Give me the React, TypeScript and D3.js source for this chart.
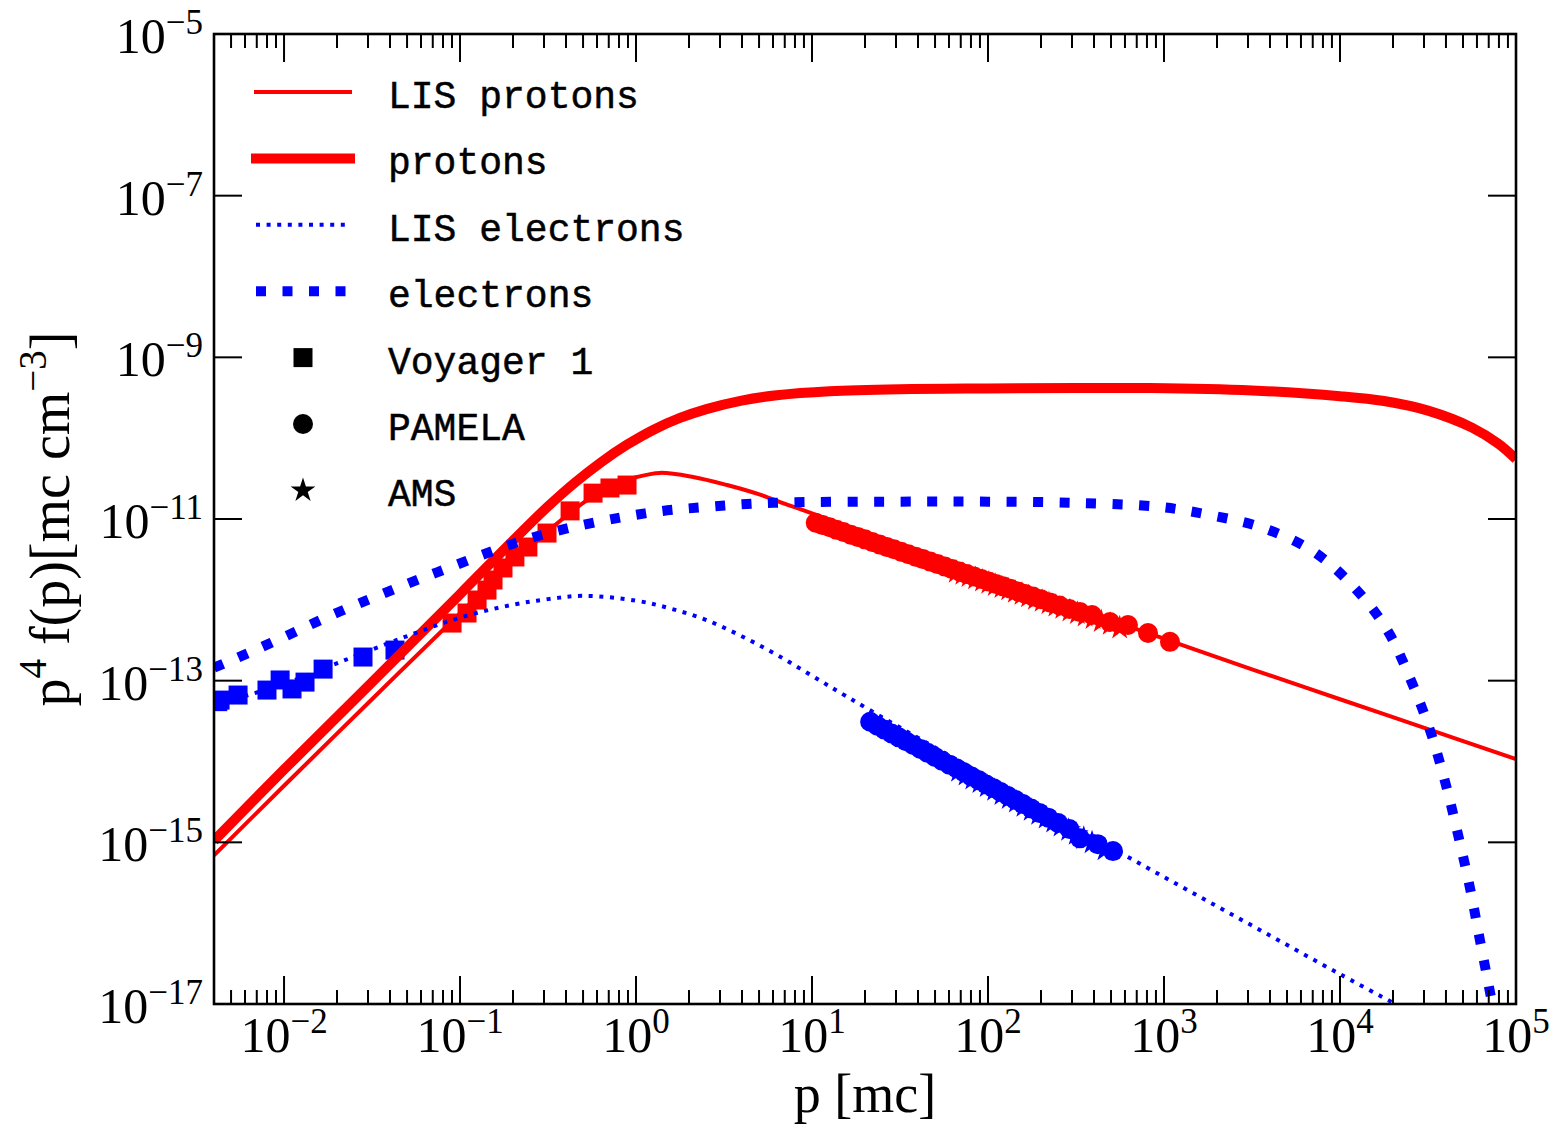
import React from 'react';
import * as d3 from 'd3';

// ---------- data ----------
const lisProtonsP = [0.004, 0.01, 0.0316, 0.0938, 0.178, 0.316, 0.501, 0.708, 1.014, 1.368, 2.109, 3.289, 5.07, 7.21, 10, 31.6, 100, 316, 1000, 3162, 10000, 31623, 100000];
const lisProtonsF = [6.92e-16, 5.01e-15, 5.89e-14, 5.96e-13, 2.29e-12, 7.08e-12, 1.585e-11, 2.51e-11, 3.31e-11, 3.72e-11, 3.31e-11, 2.63e-11, 2.0e-11, 1.51e-11, 1.175e-11, 4.68e-12, 1.905e-12, 7.94e-13, 3.31e-13, 1.38e-13, 5.89e-14, 2.51e-14, 1.07e-14];

const protonsP = [0.004, 0.01, 0.0316, 0.1, 0.1995, 0.316, 0.447, 0.631, 0.891, 1.259, 1.778, 2.512, 3.98, 6.31, 12.59, 31.6, 100, 316, 832, 3162, 10000, 17783, 31623, 56234, 79433, 100000];
const protonsF = [1.047e-15, 7.94e-15, 9.55e-14, 1.175e-12, 5.37e-12, 1.43e-11, 2.79e-11, 5.01e-11, 8.32e-11, 1.274e-10, 1.778e-10, 2.29e-10, 2.92e-10, 3.39e-10, 3.8e-10, 4.03e-10, 4.12e-10, 4.17e-10, 4.17e-10, 3.89e-10, 3.31e-10, 2.88e-10, 2.19e-10, 1.35e-10, 8.51e-11, 5.5e-11];

const lisElectronsP = [0.004, 0.01, 0.0208, 0.0486, 0.1, 0.2, 0.316, 0.501, 1, 1.585, 2.512, 3.98, 6.31, 10, 15.85, 31.6, 100, 316, 1000, 3162, 10000, 25119];
const lisElectronsF = [5.01e-14, 9.12e-14, 1.7e-13, 3.47e-13, 6.03e-13, 8.71e-13, 1.02e-12, 1.12e-12, 9.77e-13, 7.76e-13, 5.62e-13, 3.55e-13, 2.09e-13, 1.15e-13, 6.31e-14, 2.63e-14, 6.31e-15, 1.51e-15, 3.72e-16, 9.33e-17, 2.34e-17, 7.94e-18];

const electronsP = [0.004, 0.0054, 0.01, 0.02, 0.074, 0.277, 1.125, 2.512, 6.0, 31.6, 100, 316, 948, 1824, 3656, 7031, 11858, 18493, 25003, 32434, 39537, 46774, 54828, 62373, 71121, 79433];
const electronsF = [1.445e-13, 1.905e-13, 3.47e-13, 6.92e-13, 2.19e-12, 6.17e-12, 1.175e-11, 1.41e-11, 1.585e-11, 1.64e-11, 1.64e-11, 1.585e-11, 1.41e-11, 1.12e-11, 7.76e-12, 3.98e-12, 1.48e-12, 4.27e-13, 1.07e-13, 2.45e-14, 5.62e-15, 1.26e-15, 2.69e-16, 6.17e-17, 1.41e-17, 3.98e-18];

const voyagerProtonsP = [0.0901, 0.1096, 0.125, 0.1423, 0.154, 0.1754, 0.205, 0.243, 0.312, 0.422, 0.57, 0.711, 0.889];
const voyagerProtonsF = [5.16e-13, 6.87e-13, 9.95e-13, 1.32e-12, 1.76e-12, 2.48e-12, 3.39e-12, 4.5e-12, 6.7e-12, 1.26e-11, 2.09e-11, 2.42e-11, 2.63e-11];

const voyagerElectronsP = [0.0042, 0.00433, 0.00548, 0.008, 0.0095, 0.0111, 0.01316, 0.01667, 0.0281, 0.0427];
const voyagerElectronsF = [5.5e-14, 5.75e-14, 6.64e-14, 7.65e-14, 1.02e-13, 7.9e-14, 9.6e-14, 1.39e-13, 1.96e-13, 2.39e-13];

const pamelaProtonsP = [10.5, 11.5, 12.6, 13.8, 15.1, 16.6, 18.2, 20.0, 22.0, 24.2, 26.6, 29.2, 32.1, 35.3, 38.8, 42.7, 47.0, 51.7, 56.9, 62.6, 68.9, 75.8, 83.4, 91.8, 101, 111, 122, 134, 148, 163, 180, 200, 225, 255, 290, 333, 390, 493, 624, 811, 1081];
const pamelaProtonsF = [9.0e-12, 8.4e-12, 7.9e-12, 7.35e-12, 6.9e-12, 6.4e-12, 6.0e-12, 5.6e-12, 5.2e-12, 4.85e-12, 4.52e-12, 4.22e-12, 3.94e-12, 3.66e-12, 3.42e-12, 3.19e-12, 2.97e-12, 2.77e-12, 2.58e-12, 2.4e-12, 2.24e-12, 2.08e-12, 1.94e-12, 1.81e-12, 1.69e-12, 1.57e-12, 1.47e-12, 1.37e-12, 1.27e-12, 1.18e-12, 1.1e-12, 1.02e-12, 9.3e-13, 8.5e-13, 7.7e-13, 7.06e-13, 6.49e-13, 5.31e-13, 4.88e-13, 3.89e-13, 3.02e-13];

const amsProtonsP = [66, 72, 78, 85, 93, 101, 110, 120, 131, 143, 156, 170, 186, 203, 222, 243, 266, 292, 322, 356, 395, 440, 495, 560];
const amsProtonsF = [2.2e-12, 2.07e-12, 1.95e-12, 1.83e-12, 1.71e-12, 1.61e-12, 1.51e-12, 1.42e-12, 1.33e-12, 1.24e-12, 1.17e-12, 1.09e-12, 1.02e-12, 9.6e-13, 9.0e-13, 8.4e-13, 7.85e-13, 7.3e-13, 6.8e-13, 6.3e-13, 5.9e-13, 5.4e-13, 5.0e-13, 4.5e-13];

const pamelaElectronsP = [21.4, 23.5, 25.8, 28.3, 31.1, 34.2, 37.6, 41.3, 45.4, 50.0, 55.0, 60.5, 66.6, 73.3, 80.7, 88.8, 97.7, 107.5, 118, 130, 143, 158, 176, 196, 220, 250, 290, 333, 420, 513];
const pamelaElectronsF = [3.1e-14, 2.77e-14, 2.48e-14, 2.22e-14, 1.99e-14, 1.78e-14, 1.6e-14, 1.43e-14, 1.28e-14, 1.14e-14, 1.02e-14, 9.1e-15, 8.2e-15, 7.3e-15, 6.5e-15, 5.85e-15, 5.2e-15, 4.68e-15, 4.19e-15, 3.74e-15, 3.35e-15, 2.97e-15, 2.62e-15, 2.31e-15, 2.02e-15, 1.74e-15, 1.46e-15, 1.12e-15, 9.5e-16, 7.8e-16];

const amsElectronsP = [68, 75, 82, 90, 99, 109, 120, 132, 145, 160, 176, 194, 214, 236, 260, 287, 317, 350, 390, 462];
const amsElectronsF = [7.6e-15, 6.8e-15, 6.1e-15, 5.5e-15, 4.9e-15, 4.4e-15, 3.9e-15, 3.5e-15, 3.15e-15, 2.8e-15, 2.5e-15, 2.23e-15, 2.0e-15, 1.78e-15, 1.59e-15, 1.41e-15, 1.26e-15, 1.12e-15, 9.9e-16, 8.1e-16];

const xMajorExps = [-2, -1, 0, 1, 2, 3, 4, 5];
const yMajorExps = [-5, -7, -9, -11, -13, -15, -17];
const legendLabels = ['LIS protons', 'protons', 'LIS electrons', 'electrons', 'Voyager 1', 'PAMELA', 'AMS'];

// ---------- layout ----------
const W = 1553;
const H = 1129;
const L = 214, R = 1516, T = 34, B = 1004;
const RED = '#ff0000';
const BLUE = '#0000ff';
const SERIF = "'Liberation Serif', 'DejaVu Serif', serif";
const MONO = "'Liberation Mono', 'DejaVu Sans Mono', monospace";

const x = d3.scaleLog().domain([0.004, 1e5]).range([L, R]);
const y = d3.scaleLog().domain([1e-17, 1e-5]).range([B, T]);

const line = d3
  .line<[number, number]>()
  .x((d) => x(d[0]))
  .y((d) => y(d[1]))
  .curve(d3.curveCatmullRom.alpha(0.5));

const sq = d3.symbol(d3.symbolSquare, 19 * 19)() as string;
const circ = d3.symbol(d3.symbolCircle, Math.PI * 10 * 10)() as string;
const star = d3.symbol(d3.symbolStar, 190)() as string;

function Markers({ ps, fs, path, color }: { ps: number[]; fs: number[]; path: string; color: string }) {
  return (
    <g fill={color}>
      {d3.zip(ps, fs).map(([p, f], i) => (
        <path key={i} d={path} transform={`translate(${x(p as number)},${y(f as number)})`} />
      ))}
    </g>
  );
}

function Pow({ e, main, sup }: { e: number; main: number; sup: number }) {
  return (
    <>
      <tspan fontSize={main}>10</tspan>
      <tspan fontSize={sup} dy={-main * 0.38}>
        {e < 0 ? `\u2212${-e}` : `${e}`}
      </tspan>
    </>
  );
}

export default function App() {
  const xTicks = x.ticks();
  const isMajor = (v: number) => Math.abs(Math.log10(v) - Math.round(Math.log10(v))) < 1e-6;

  const legendRows = legendLabels.map((_, i) => 92 + i * 66.4);

  return (
    <svg
      width={W}
      height={H}
      viewBox={`0 0 ${W} ${H}`}
      style={{ position: 'absolute', left: 0, top: 0, background: '#fff' }}
    >
      <defs>
        <clipPath id="plot">
          <rect x={L} y={T} width={R - L} height={B - T} />
        </clipPath>
      </defs>
      <rect x={0} y={0} width={W} height={H} fill="#fff" />

      {/* data */}
      <g clipPath="url(#plot)">
        <Markers ps={voyagerElectronsP} fs={voyagerElectronsF} path={sq} color={BLUE} />
        <Markers ps={voyagerProtonsP} fs={voyagerProtonsF} path={sq} color={RED} />
        <Markers ps={pamelaProtonsP} fs={pamelaProtonsF} path={circ} color={RED} />
        <Markers ps={amsProtonsP} fs={amsProtonsF} path={star} color={RED} />
        <Markers ps={pamelaElectronsP} fs={pamelaElectronsF} path={circ} color={BLUE} />
        <Markers ps={amsElectronsP} fs={amsElectronsF} path={star} color={BLUE} />

        <path
          d={line(d3.zip(lisProtonsP, lisProtonsF) as [number, number][]) as string}
          fill="none"
          stroke={RED}
          strokeWidth={4}
          strokeLinejoin="round"
        />
        <path
          d={line(d3.zip(protonsP, protonsF) as [number, number][]) as string}
          fill="none"
          stroke={RED}
          strokeWidth={10}
          strokeLinejoin="round"
        />
        <path
          d={line(d3.zip(lisElectronsP, lisElectronsF) as [number, number][]) as string}
          fill="none"
          stroke={BLUE}
          strokeWidth={4}
          strokeDasharray="4 6.6"
        />
        <path
          d={line(d3.zip(electronsP, electronsF) as [number, number][]) as string}
          fill="none"
          stroke={BLUE}
          strokeWidth={10}
          strokeDasharray="10 16.5"
        />
      </g>

      {/* legend */}
      <g>
        <line x1={256} x2={350} y1={legendRows[0]} y2={legendRows[0]} stroke={RED} strokeWidth={4} strokeLinecap="square" />
        <line x1={256} x2={350} y1={legendRows[1]} y2={legendRows[1]} stroke={RED} strokeWidth={10} strokeLinecap="square" />
        <line x1={256} x2={350} y1={legendRows[2]} y2={legendRows[2]} stroke={BLUE} strokeWidth={4} strokeDasharray="4 6.6" />
        <line x1={256} x2={350} y1={legendRows[3]} y2={legendRows[3]} stroke={BLUE} strokeWidth={10} strokeDasharray="10 16.5" />
        <path d={sq} transform={`translate(303,${legendRows[4]})`} fill="#000" />
        <path d={circ} transform={`translate(303,${legendRows[5]})`} fill="#000" />
        <path d={star} transform={`translate(303,${legendRows[6]})`} fill="#000" />
        {legendLabels.map((lab, i) => (
          <text
            key={lab}
            x={388}
            y={legendRows[i] + 16}
            fontFamily={MONO}
            fontSize={38}
            fill="#000"
            stroke="#000"
            strokeWidth={0.5}
          >
            {lab}
          </text>
        ))}
      </g>

      {/* ticks */}
      <g stroke="#000" strokeWidth={2}>
        {xTicks.map((v, i) => {
          const len = isMajor(v) ? 28 : 14;
          const px = x(v);
          if (px <= L + 0.5 || px >= R - 0.5) return null;
          return (
            <g key={i}>
              <line x1={px} x2={px} y1={B} y2={B - len} />
              <line x1={px} x2={px} y1={T} y2={T + len} />
            </g>
          );
        })}
        {yMajorExps.map((e) => {
          const py = y(Math.pow(10, e));
          return (
            <g key={e}>
              <line x1={L} x2={L + 28} y1={py} y2={py} />
              <line x1={R} x2={R - 28} y1={py} y2={py} />
            </g>
          );
        })}
      </g>

      {/* frame */}
      <rect x={L} y={T} width={R - L} height={B - T} fill="none" stroke="#000" strokeWidth={2.6} />

      {/* tick labels */}
      <g fontFamily={SERIF} fill="#000">
        {xMajorExps.map((e) => (
          <text key={e} x={x(Math.pow(10, e))} y={1052} textAnchor="middle">
            <Pow e={e} main={50} sup={35} />
          </text>
        ))}
        {yMajorExps.map((e) => (
          <text key={e} x={203} y={y(Math.pow(10, e)) + 19} textAnchor="end">
            <Pow e={e} main={50} sup={35} />
          </text>
        ))}
      </g>

      {/* axis labels */}
      <text x={(L + R) / 2} y={1112} textAnchor="middle" fontFamily={SERIF} fontSize={54} fill="#000">
        p [mc]
      </text>
      <text
        transform={`translate(69,${(T + B) / 2}) rotate(-90)`}
        textAnchor="middle"
        fontFamily={SERIF}
        fontSize={56}
        fill="#000"
      >
        <tspan>p</tspan>
        <tspan fontSize={39} dy={-23}>4</tspan>
        <tspan dy={23}> f(p)[mc cm</tspan>
        <tspan fontSize={39} dy={-23}>{'\u22123'}</tspan>
        <tspan dy={23}>]</tspan>
      </text>
    </svg>
  );
}
